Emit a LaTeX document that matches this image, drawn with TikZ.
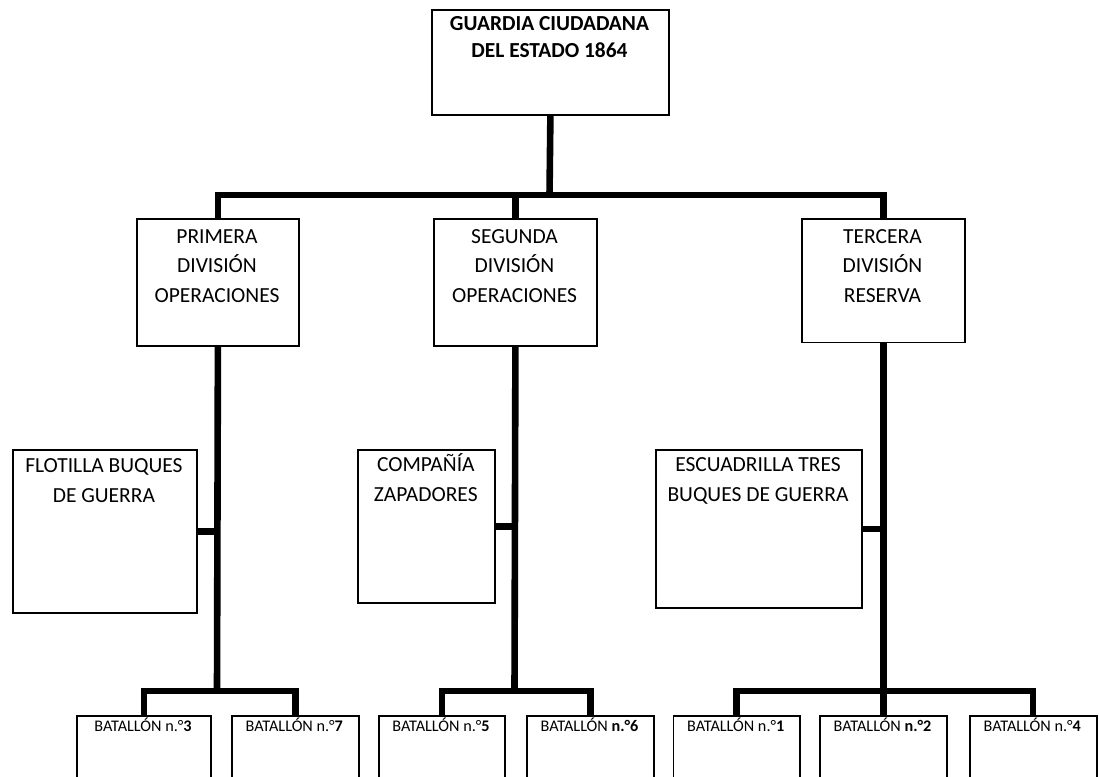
\documentclass[tikz,border=0pt]{standalone}
\usepackage{fontspec}
\setmainfont{Carlito}
\newcommand\firststrut{\rule{0pt}{20pt}}
\tikzset{
  frame/.style={draw=black, line width=1.8pt, fill=white, inner sep=0pt, anchor=north west},
  conn/.style={line width=6.6pt, line join=miter, draw=black},
  headtext/.style={anchor=north, inner sep=0pt, align=center, font=\fontsize{21.4}{27}\selectfont\bfseries},
  divtext/.style={anchor=north, inner sep=0pt, align=center, font=\fontsize{21.5}{29.5}\selectfont},
  sidetext/.style={anchor=north, inner sep=0pt, align=center, font=\fontsize{21.5}{30}\selectfont},
  battext/.style={anchor=base, inner sep=0pt, font=\fontsize{16.2}{19}\selectfont},
}
\begin{document}
\begin{tikzpicture}[x=1pt,y=-1pt]
\useasboundingbox (0,0) rectangle (1099,776);
\clip (0,0) rectangle (1099,776);
\fill[white] (0,0) rectangle (1099,776);

% boxes
\node[frame, minimum width=237, minimum height=105] (top) at (431,9) {};
\node[frame, minimum width=162, minimum height=127.3] (p1) at (136,217.7) {};
\node[frame, minimum width=163, minimum height=127] (p2) at (433,218) {};
\node[frame, minimum width=163, minimum height=123.5] (p3) at (801,218) {};
\node[frame, minimum width=184.3, minimum height=162.7] (fl) at (11.7,449) {};
\node[frame, minimum width=137, minimum height=153] (cz) at (357.3,449.3) {};
\node[frame, minimum width=206.6, minimum height=157.4] (es) at (654.7,449.3) {};
\node[frame, minimum width=134, minimum height=80] (b3) at (76,715) {};
\node[frame, minimum width=126.7, minimum height=80] (b7) at (231,715) {};
\node[frame, minimum width=126.6, minimum height=80] (b5) at (377.7,715) {};
\node[frame, minimum width=127, minimum height=80] (b6) at (526,715) {};
\node[frame, minimum width=126.2, minimum height=80] (b1) at (672.6,715) {};
\node[frame, minimum width=127, minimum height=80] (b2) at (819,715) {};
\node[frame, minimum width=127, minimum height=80] (b4) at (968.7,715) {};

% junction points of the bars
\coordinate (topbar) at (549.5,195);
\coordinate (bar1) at (217,691);
\coordinate (bar2) at (514.5,691);
\coordinate (bar3) at (882.5,691);

% connectors
\draw[conn] (top.south) -- (topbar);
\draw[conn] (p1.north) -- (p1.north |- topbar) -- (p3.north |- topbar) -- (p3.north);
\draw[conn] (p2.north) -- (p2.north |- topbar);

\draw[conn] (p1.south) -- (bar1);
\draw[conn] (b3.north) -- (b3.north |- bar1) -- (b7.north |- bar1) -- (b7.north);
\draw[conn] (fl.east) -- (fl.east -| bar1);

\draw[conn] (p2.south) -- (bar2);
\draw[conn] (b5.north) -- (b5.north |- bar2) -- (b6.north |- bar2) -- (b6.north);
\draw[conn] (cz.east) -- (cz.east -| bar2);

\draw[conn] (p3.south) -- (b2.north);
\draw[conn] (b1.north) -- (b1.north |- bar3) -- (b4.north |- bar3) -- (b4.north);
\draw[conn] (es.east) -- (es.east -| bar3);

% texts
\node[headtext] (topt) at (549.5,10) {\firststrut GUARDIA CIUDADANA\\DEL ESTADO 1864};
\node[divtext] (p1t) at (217,223) {\firststrut PRIMERA\\DIVISIÓN\\OPERACIONES};
\node[divtext] (p2t) at (514.5,223) {\firststrut SEGUNDA\\DIVISIÓN\\OPERACIONES};
\node[divtext] (p3t) at (882.5,223) {\firststrut TERCERA\\DIVISIÓN\\RESERVA};
\node[sidetext] (flt) at (103.9,452.2) {\firststrut FLOTILLA BUQUES\\DE GUERRA};
\node[sidetext] (czt) at (425.8,451.5) {\firststrut COMPAÑÍA\\ZAPADORES};
\node[sidetext] (est) at (758,451.5) {\firststrut ESCUADRILLA TRES\\BUQUES DE GUERRA};

\node[battext] (b3t) at (143,731.7) {BATALLÓN n.°\textbf{3}};
\node[battext] (b7t) at (294.3,731.7) {BATALLÓN n.°\textbf{7}};
\node[battext] (b5t) at (441,731.7) {BATALLÓN n.°\textbf{5}};
\node[battext] (b6t) at (589.5,731.7) {BATALLÓN \textbf{n.°6}};
\node[battext] (b1t) at (735.7,731.7) {BATALLÓN n.°\textbf{1}};
\node[battext] (b2t) at (882.5,731.7) {BATALLÓN \textbf{n.°2}};
\node[battext] (b4t) at (1032.2,731.7) {BATALLÓN n.°\textbf{4}};
\end{tikzpicture}
\end{document}
